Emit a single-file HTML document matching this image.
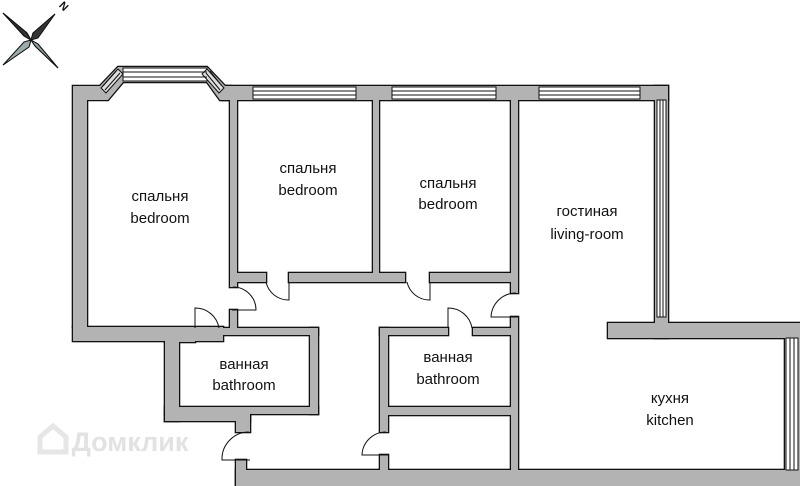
<!DOCTYPE html>
<html><head><meta charset="utf-8"><style>
html,body{margin:0;padding:0;background:#fff;}
svg{display:block;}
text{font-family:"Liberation Sans",Arial,sans-serif;font-size:15px;fill:#111;text-anchor:middle;}
</style></head><body>
<svg width="800" height="486" viewBox="0 0 800 486" xmlns="http://www.w3.org/2000/svg">
<defs>
<g id="walls">
<polygon points="73,86 100,86 118,67 207,67 225,86 231,86 231,100 220,100 207,82 123,82 108,100 87,100 87,327 73,327"/>
<rect x="222" y="86" width="446" height="14"/>
<rect x="73" y="327" width="150" height="14"/>
<rect x="230" y="100" width="7" height="187"/>
<rect x="230" y="310" width="7" height="18"/>
<rect x="373" y="100" width="6" height="173"/>
<rect x="511" y="100" width="7" height="193"/>
<rect x="511" y="317" width="7" height="153"/>
<rect x="237" y="273" width="29" height="9"/>
<rect x="289" y="273" width="116" height="9"/>
<rect x="430" y="273" width="81" height="9"/>
<rect x="165" y="328" width="30" height="14"/>
<rect x="219" y="328" width="99" height="7"/>
<rect x="165" y="328" width="14" height="93"/>
<rect x="310" y="328" width="8" height="86"/>
<rect x="165" y="407" width="153" height="7"/>
<rect x="165" y="414" width="85" height="7"/>
<rect x="236" y="414" width="14" height="18"/>
<rect x="236" y="460" width="10" height="26"/>
<rect x="380" y="328" width="68" height="7"/>
<rect x="473" y="328" width="39" height="7"/>
<rect x="380" y="328" width="8" height="104"/>
<rect x="388" y="407" width="124" height="8"/>
<rect x="380" y="455" width="8" height="15"/>
<rect x="236" y="470" width="564" height="16"/>
<rect x="655" y="86" width="13" height="252"/>
<rect x="608" y="323" width="192" height="15"/>
<rect x="785" y="338" width="15" height="132"/>
</g>
</defs>
<text x="130" y="451" style="fill:#e2e2e2;font-size:27px;font-weight:bold;text-anchor:middle">Домклик</text>
<path d="M40,452 L40,437 L53,426 L66,437 L66,452 Z" fill="none" stroke="#e6e6e6" stroke-width="5"/>
<g stroke="#111" stroke-width="1">
<polygon points="3,13 27,33 31,40 24,36" fill="#6b7b7b"/>
<polygon points="58,68 35,46 31,40 38,44" fill="#333"/>
<polygon points="55,14 35,36 31,40 33,33" fill="#8fa0a0"/>
<polygon points="3,65 27,46 31,40 29,47" fill="#555"/>
<polygon points="55,14 33,33 31,40 38,38" fill="#333"/>
<polygon points="3,65 29,47 31,40 24,42" fill="#9aabab"/>
<polygon points="3,13 24,36 31,40 27,33" fill="#333"/>
<polygon points="58,68 38,44 31,40 35,46" fill="#8fa0a0"/>
</g>
<text x="64" y="10" style="font-size:11px;font-weight:bold" transform="rotate(45 64 6)">N</text>

<use href="#walls" fill="#111" stroke="#111" stroke-width="2.6"/>
<use href="#walls" fill="#b3b3b3" stroke="none"/>
<g fill="#fff" stroke="#111" stroke-width="1">
<rect x="253" y="87" width="103" height="12"/>
<rect x="392" y="87" width="104" height="12"/>
<rect x="539" y="87" width="101" height="12"/>
<rect x="123" y="68" width="84" height="13"/>
<rect x="657" y="100" width="9" height="217"/>
<rect x="786" y="338" width="12" height="132"/>
<polygon points="101,88 118,69 123,74 106,93" fill="#ddd"/>
<polygon points="207,69 224,88 219,93 202,74" fill="#ddd"/>
</g>
<g stroke="#111" stroke-width="1" fill="none">
<line x1="253" y1="91" x2="356" y2="91"/><line x1="253" y1="95" x2="356" y2="95"/>
<line x1="392" y1="91" x2="496" y2="91"/><line x1="392" y1="95" x2="496" y2="95"/>
<line x1="539" y1="91" x2="640" y2="91"/><line x1="539" y1="95" x2="640" y2="95"/>
<line x1="123" y1="72" x2="207" y2="72"/><line x1="123" y1="77" x2="207" y2="77"/>
<line x1="660" y1="100" x2="660" y2="317"/><line x1="663" y1="100" x2="663" y2="317"/>
<line x1="790" y1="338" x2="790" y2="470"/><line x1="794" y1="338" x2="794" y2="470"/>
<line x1="103" y1="86" x2="116" y2="71"/><line x1="105" y1="90" x2="120" y2="73"/>
<line x1="210" y1="71" x2="222" y2="86"/><line x1="206" y1="73" x2="220" y2="90"/>
<path d="M289,282 L289,300 A23,23 0 0 1 266,282"/>
<path d="M430,282 L430,300 A23,23 0 0 1 407,282"/>
<path d="M232,310 L256,310 A23,23 0 0 0 233,287"/>
<path d="M195,328 L195,308 A24,24 0 0 1 219,328"/>
<path d="M448,328 L448,308 A24,24 0 0 1 472,328"/>
<path d="M518,317 L491,317 A25,25 0 0 1 516,293"/>
<path d="M250,460 L222,460 A27,27 0 0 1 249,432"/>
<path d="M388,455 L362,455 A24,24 0 0 1 386,432"/>
</g>
<text x="160" y="201">спальня</text><text x="160" y="223">bedroom</text>
<text x="308" y="173">спальня</text><text x="308" y="195">bedroom</text>
<text x="448" y="188">спальня</text><text x="448" y="209">bedroom</text>
<text x="587" y="216">гостиная</text><text x="587" y="239">living-room</text>
<text x="244" y="369">ванная</text><text x="244" y="390">bathroom</text>
<text x="448" y="362">ванная</text><text x="448" y="384">bathroom</text>
<text x="670" y="403">кухня</text><text x="670" y="425">kitchen</text>
</svg>
</body></html>
